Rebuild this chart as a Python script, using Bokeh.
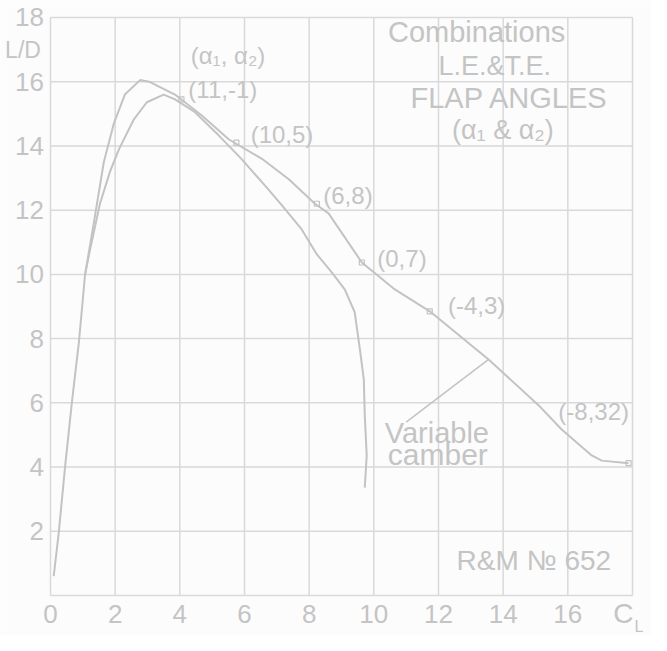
from bokeh.plotting import figure
from bokeh.models import Range1d, ColumnDataSource
from bokeh.core.properties import value
from bokeh.embed import file_html
from bokeh.resources import INLINE

# ---- data ----
# Curve of L.E. & T.E. flap-angle combinations
flap_cl = [0.10, 0.26, 0.45, 0.66, 0.88, 1.07, 1.34, 1.65, 1.96, 2.30, 2.77, 3.05,
           3.85, 4.68, 5.52, 6.54, 7.37, 8.18, 8.60, 9.63, 10.65, 11.73, 13.55,
           15.10, 15.81, 16.74, 17.05, 17.88]
flap_ld = [0.6, 2.0, 4.0, 6.0, 7.9, 10.0, 11.6, 13.5, 14.7, 15.6, 16.05, 16.0,
           15.6, 14.95, 14.2, 13.6, 12.96, 12.2, 11.9, 10.37, 9.53, 8.85, 7.35,
           5.92, 5.17, 4.36, 4.2, 4.12]

# Variable camber curve
camber_cl = [1.07, 1.22, 1.53, 1.84, 2.12, 2.58, 2.98, 3.50, 3.85, 4.47, 5.20,
             5.92, 6.63, 7.16, 7.77, 8.24, 8.70, 9.10, 9.41, 9.57, 9.69, 9.72,
             9.78, 9.72]
camber_ld = [10.0, 10.75, 12.2, 13.2, 13.9, 14.83, 15.36, 15.6, 15.45, 15.05,
             14.33, 13.58, 12.77, 12.15, 11.4, 10.62, 10.06, 9.53, 8.82, 7.66,
             6.73, 5.61, 4.36, 3.36]

# Flap angle combinations (alpha1, alpha2) marked on the curve
combo_labels = ["(11,-1)", "(10,5)", "(6,8)", "(0,7)", "(-4,3)", "(-8,32)"]
combo_cl = [4.05, 5.75, 8.24, 9.63, 11.73, 17.88]
combo_ld = [15.45, 14.1, 12.2, 10.37, 8.85, 4.12]
combo_label_cl = [5.33, 7.16, 9.2, 10.87, 13.18, 16.8]
combo_label_ld = [15.76, 14.36, 12.46, 10.5, 9.03, 5.73]

# leader from "Variable camber" note to the curve
leader_cl = [11.0, 13.55]
leader_ld = [5.4, 7.35]

x_ticks = [0, 2, 4, 6, 8, 10, 12, 14, 16, 18]
x_tick_labels = ["0", "2", "4", "6", "8", "10", "12", "14", "16", ""]
y_ticks = [0, 2, 4, 6, 8, 10, 12, 14, 16, 18]
y_tick_labels = ["", "2", "4", "6", "8", "10", "12", "14", "16", "18"]
x_title = "C"
x_title_sub = "L"
y_title = "L/D"

# ---- styling ----
BG = "#fcfcfc"
GRID = "#d9d9d9"
LINE = "#c3c3c3"
TXT = "#c4c4c4"
FONT = "Liberation Sans"

X0, X1 = -1.546, 18.588
Y0, Y1 = -1.246, 18.529

p = figure(width=651, height=635, output_backend="svg", toolbar_location=None,
           x_range=Range1d(X0, X1), y_range=Range1d(Y0, Y1),
           min_border=0, background_fill_color=BG, border_fill_color=BG,
           outline_line_color=None)
p.axis.visible = False
p.grid.visible = False

# grid (the chart's own ruled lines, 0..18 in both directions)
p.segment(x0=x_ticks, y0=[y_ticks[0]] * len(x_ticks), x1=x_ticks,
          y1=[y_ticks[-1]] * len(x_ticks), line_color=GRID, line_width=1.5)
p.segment(x0=[x_ticks[0]] * len(y_ticks), y0=y_ticks, x1=[x_ticks[-1]] * len(y_ticks),
          y1=y_ticks, line_color=GRID, line_width=1.5)

# tick labels
p.text(x=x_ticks, y=[-0.59] * len(x_ticks), text=x_tick_labels, text_color=TXT,
       text_font=value(FONT), text_font_size="26px", text_align="center",
       text_baseline="middle")
p.text(x=[-0.2] * len(y_ticks), y=y_ticks, text=y_tick_labels, text_color=TXT,
       text_font=value(FONT), text_font_size="26px", text_align="right",
       text_baseline="middle")
p.text(x=[-0.85], y=[17.0], text=[y_title], text_color=TXT, text_font=value(FONT),
       text_font_size="23px", text_align="center", text_baseline="middle")
p.text(x=[17.72], y=[-0.56], text=[x_title], text_color=TXT, text_font=value(FONT),
       text_font_size="28px", text_align="center", text_baseline="middle")
p.text(x=[18.2], y=[-0.98], text=[x_title_sub], text_color=TXT,
       text_font=value(FONT), text_font_size="16px", text_align="center",
       text_baseline="middle")

# curves
p.line(flap_cl, flap_ld, line_color=LINE, line_width=2)
p.line(camber_cl, camber_ld, line_color=LINE, line_width=2)
p.line(leader_cl, leader_ld, line_color=LINE, line_width=1.5)
p.scatter(combo_cl, combo_ld, marker="square", size=5, fill_color=None,
          line_color=LINE, line_width=1.2)

src = ColumnDataSource(dict(x=combo_label_cl, y=combo_label_ld, t=combo_labels))
p.text(x="x", y="y", text="t", source=src, text_color=TXT,
       text_font=value(FONT), text_font_size="24px",
       text_align="center", text_baseline="middle")

notes = [
    ("(α₁, α₂)", 5.49, 16.82, "24px"),
    ("Combinations", 13.18, 17.54, "29px"),
    ("L.E.&T.E.", 13.74, 16.48, "27px"),
    ("FLAP ANGLES", 14.2, 15.48, "29px"),
    ("(α₁ & α₂)", 13.99, 14.49, "27px"),
    ("Variable", 11.95, 5.05, "29px"),
    ("camber", 11.98, 4.39, "30px"),
    ("R&M № 652", 14.95, 1.09, "28px"),
]
for t, x, y, fs in notes:
    p.text(x=[x], y=[y], text=[t], text_color=TXT, text_font=value(FONT),
           text_font_size=fs, text_align="center", text_baseline="middle")

open("out.html", "w").write(file_html(p, INLINE))
